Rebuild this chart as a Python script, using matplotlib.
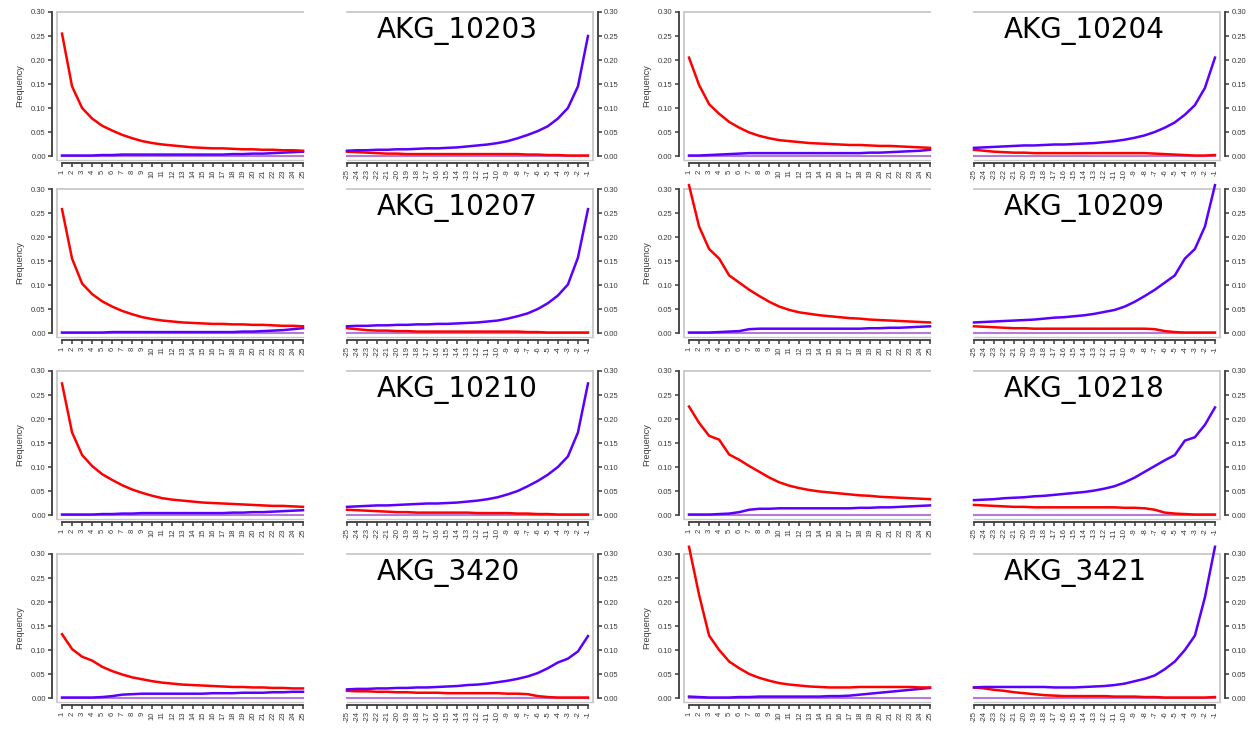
import matplotlib
matplotlib.use("Agg")
import matplotlib.pyplot as plt

# positions along the read
pos_5p = list(range(1, 26))
pos_3p = list(range(-25, 0))
zero_line = [0.0] * 25

# AKG_10203
ct5_10203 = [0.255, 0.145, 0.100, 0.078, 0.063, 0.053, 0.044, 0.037, 0.031, 0.027, 0.024, 0.022, 0.020,
             0.018, 0.017, 0.016, 0.016, 0.015, 0.014, 0.014, 0.013, 0.013, 0.012, 0.012, 0.011]
ga5_10203 = [0.001, 0.001, 0.001, 0.001, 0.002, 0.002, 0.003, 0.003, 0.003, 0.003, 0.003, 0.003, 0.003,
             0.003, 0.003, 0.003, 0.003, 0.004, 0.004, 0.005, 0.005, 0.006, 0.007, 0.008, 0.009]
ga3_10203 = [0.011, 0.012, 0.012, 0.013, 0.013, 0.014, 0.014, 0.015, 0.016, 0.016, 0.017, 0.018, 0.020,
             0.022, 0.024, 0.027, 0.031, 0.037, 0.044, 0.052, 0.062, 0.078, 0.100, 0.145, 0.250]
ct3_10203 = [0.009, 0.008, 0.007, 0.006, 0.005, 0.005, 0.004, 0.004, 0.004, 0.004, 0.004, 0.004, 0.004,
             0.004, 0.004, 0.004, 0.004, 0.004, 0.003, 0.003, 0.002, 0.002, 0.001, 0.001, 0.001]

# AKG_10204
ct5_10204 = [0.205, 0.148, 0.108, 0.088, 0.071, 0.059, 0.049, 0.042, 0.037, 0.033, 0.031, 0.029, 0.027,
             0.026, 0.025, 0.024, 0.023, 0.023, 0.022, 0.021, 0.021, 0.020, 0.019, 0.018, 0.017]
ga5_10204 = [0.001, 0.001, 0.002, 0.003, 0.004, 0.005, 0.006, 0.006, 0.006, 0.006, 0.006, 0.006, 0.006,
             0.006, 0.006, 0.006, 0.006, 0.006, 0.007, 0.007, 0.008, 0.009, 0.010, 0.011, 0.013]
ga3_10204 = [0.017, 0.018, 0.019, 0.020, 0.021, 0.022, 0.022, 0.023, 0.024, 0.024, 0.025, 0.026, 0.027,
             0.029, 0.031, 0.034, 0.038, 0.043, 0.050, 0.059, 0.070, 0.086, 0.106, 0.142, 0.205]
ct3_10204 = [0.013, 0.011, 0.009, 0.008, 0.007, 0.007, 0.006, 0.006, 0.006, 0.006, 0.006, 0.006, 0.006,
             0.006, 0.006, 0.006, 0.006, 0.006, 0.005, 0.004, 0.003, 0.002, 0.001, 0.001, 0.002]

# AKG_10207
ct5_10207 = [0.258, 0.155, 0.103, 0.081, 0.066, 0.055, 0.046, 0.039, 0.033, 0.029, 0.026, 0.024, 0.022,
             0.021, 0.020, 0.019, 0.019, 0.018, 0.018, 0.017, 0.017, 0.016, 0.015, 0.015, 0.014]
ga5_10207 = [0.001, 0.001, 0.001, 0.001, 0.001, 0.002, 0.002, 0.002, 0.002, 0.002, 0.002, 0.002, 0.002,
             0.002, 0.002, 0.002, 0.002, 0.002, 0.003, 0.003, 0.004, 0.005, 0.006, 0.008, 0.010]
ga3_10207 = [0.014, 0.015, 0.015, 0.016, 0.016, 0.017, 0.017, 0.018, 0.018, 0.019, 0.019, 0.020, 0.021,
             0.022, 0.024, 0.026, 0.030, 0.035, 0.041, 0.050, 0.062, 0.078, 0.101, 0.157, 0.258]
ct3_10207 = [0.010, 0.008, 0.006, 0.005, 0.005, 0.004, 0.004, 0.003, 0.003, 0.003, 0.003, 0.003, 0.003,
             0.003, 0.003, 0.003, 0.003, 0.003, 0.002, 0.002, 0.001, 0.001, 0.001, 0.001, 0.001]

# AKG_10209
ct5_10209 = [0.308, 0.222, 0.175, 0.155, 0.120, 0.105, 0.090, 0.077, 0.065, 0.055, 0.048, 0.043, 0.040,
             0.037, 0.035, 0.033, 0.031, 0.030, 0.028, 0.027, 0.026, 0.025, 0.024, 0.023, 0.022]
ga5_10209 = [0.001, 0.001, 0.001, 0.002, 0.003, 0.004, 0.008, 0.009, 0.009, 0.009, 0.009, 0.009, 0.009,
             0.009, 0.009, 0.009, 0.009, 0.009, 0.010, 0.010, 0.011, 0.011, 0.012, 0.013, 0.014]
ga3_10209 = [0.022, 0.023, 0.024, 0.025, 0.026, 0.027, 0.028, 0.030, 0.032, 0.033, 0.035, 0.037, 0.040,
             0.044, 0.048, 0.055, 0.065, 0.077, 0.090, 0.105, 0.120, 0.155, 0.175, 0.222, 0.308]
ct3_10209 = [0.014, 0.013, 0.012, 0.011, 0.010, 0.010, 0.009, 0.009, 0.009, 0.009, 0.009, 0.009, 0.009,
             0.009, 0.009, 0.009, 0.009, 0.009, 0.008, 0.004, 0.002, 0.001, 0.001, 0.001, 0.001]

# AKG_10210
ct5_10210 = [0.274, 0.172, 0.125, 0.102, 0.085, 0.073, 0.062, 0.053, 0.046, 0.040, 0.035, 0.032, 0.030,
             0.028, 0.026, 0.025, 0.024, 0.023, 0.022, 0.021, 0.020, 0.019, 0.019, 0.018, 0.017]
ga5_10210 = [0.001, 0.001, 0.001, 0.001, 0.002, 0.002, 0.003, 0.003, 0.004, 0.004, 0.004, 0.004, 0.004,
             0.004, 0.004, 0.004, 0.004, 0.005, 0.005, 0.006, 0.006, 0.007, 0.008, 0.009, 0.010]
ga3_10210 = [0.017, 0.018, 0.019, 0.020, 0.020, 0.021, 0.022, 0.023, 0.024, 0.024, 0.025, 0.026, 0.028,
             0.030, 0.033, 0.037, 0.043, 0.050, 0.060, 0.071, 0.084, 0.100, 0.122, 0.172, 0.274]
ct3_10210 = [0.011, 0.010, 0.009, 0.008, 0.007, 0.006, 0.006, 0.005, 0.005, 0.005, 0.005, 0.005, 0.005,
             0.004, 0.004, 0.004, 0.004, 0.003, 0.003, 0.002, 0.002, 0.001, 0.001, 0.001, 0.001]

# AKG_10218
ct5_10218 = [0.226, 0.192, 0.165, 0.157, 0.126, 0.115, 0.102, 0.090, 0.078, 0.068, 0.061, 0.056, 0.052,
             0.049, 0.047, 0.045, 0.043, 0.041, 0.040, 0.038, 0.037, 0.036, 0.035, 0.034, 0.033]
ga5_10218 = [0.001, 0.001, 0.001, 0.002, 0.003, 0.006, 0.011, 0.013, 0.013, 0.014, 0.014, 0.014, 0.014,
             0.014, 0.014, 0.014, 0.014, 0.015, 0.015, 0.016, 0.016, 0.017, 0.018, 0.019, 0.020]
ga3_10218 = [0.031, 0.032, 0.033, 0.035, 0.036, 0.037, 0.039, 0.040, 0.042, 0.044, 0.046, 0.048, 0.051,
             0.055, 0.060, 0.068, 0.078, 0.090, 0.102, 0.114, 0.125, 0.155, 0.162, 0.188, 0.224]
ct3_10218 = [0.021, 0.020, 0.019, 0.018, 0.017, 0.017, 0.016, 0.016, 0.016, 0.016, 0.016, 0.016, 0.016,
             0.016, 0.016, 0.015, 0.015, 0.014, 0.011, 0.005, 0.003, 0.002, 0.001, 0.001, 0.001]

# AKG_3420
ct5_3420 = [0.133, 0.102, 0.086, 0.078, 0.065, 0.056, 0.049, 0.043, 0.039, 0.035, 0.032, 0.030, 0.028,
            0.027, 0.026, 0.025, 0.024, 0.023, 0.023, 0.022, 0.022, 0.021, 0.021, 0.020, 0.020]
ga5_3420 = [0.001, 0.001, 0.001, 0.001, 0.002, 0.004, 0.007, 0.008, 0.009, 0.009, 0.009, 0.009, 0.009,
            0.009, 0.009, 0.010, 0.010, 0.010, 0.011, 0.011, 0.011, 0.012, 0.012, 0.013, 0.013]
ga3_3420 = [0.018, 0.019, 0.019, 0.020, 0.020, 0.021, 0.021, 0.022, 0.022, 0.023, 0.024, 0.025, 0.027,
            0.028, 0.030, 0.033, 0.036, 0.040, 0.045, 0.052, 0.062, 0.074, 0.082, 0.097, 0.129]
ct3_3420 = [0.015, 0.014, 0.014, 0.013, 0.013, 0.012, 0.012, 0.011, 0.011, 0.011, 0.010, 0.010, 0.010,
            0.010, 0.010, 0.010, 0.009, 0.009, 0.008, 0.004, 0.002, 0.001, 0.001, 0.001, 0.001]

# AKG_3421
ct5_3421 = [0.315, 0.215, 0.130, 0.100, 0.076, 0.062, 0.050, 0.042, 0.036, 0.031, 0.028, 0.026, 0.024,
            0.023, 0.022, 0.022, 0.022, 0.023, 0.023, 0.023, 0.023, 0.023, 0.023, 0.022, 0.022]
ga5_3421 = [0.003, 0.002, 0.001, 0.001, 0.001, 0.002, 0.002, 0.003, 0.003, 0.003, 0.003, 0.003, 0.003,
            0.003, 0.004, 0.004, 0.005, 0.007, 0.009, 0.011, 0.013, 0.015, 0.017, 0.019, 0.021]
ga3_3421 = [0.022, 0.023, 0.023, 0.023, 0.023, 0.023, 0.023, 0.023, 0.022, 0.022, 0.022, 0.023, 0.024,
            0.025, 0.027, 0.030, 0.035, 0.040, 0.047, 0.060, 0.076, 0.100, 0.130, 0.210, 0.315]
ct3_3421 = [0.022, 0.020, 0.017, 0.015, 0.012, 0.010, 0.008, 0.006, 0.005, 0.004, 0.004, 0.004, 0.004,
            0.004, 0.003, 0.003, 0.003, 0.002, 0.002, 0.001, 0.001, 0.001, 0.001, 0.001, 0.002]

samples = [
    ("AKG_10203", ct5_10203, ga5_10203, ga3_10203, ct3_10203),
    ("AKG_10204", ct5_10204, ga5_10204, ga3_10204, ct3_10204),
    ("AKG_10207", ct5_10207, ga5_10207, ga3_10207, ct3_10207),
    ("AKG_10209", ct5_10209, ga5_10209, ga3_10209, ct3_10209),
    ("AKG_10210", ct5_10210, ga5_10210, ga3_10210, ct3_10210),
    ("AKG_10218", ct5_10218, ga5_10218, ga3_10218, ct3_10218),
    ("AKG_3420", ct5_3420, ga5_3420, ga3_3420, ct3_3420),
    ("AKG_3421", ct5_3421, ga5_3421, ga3_3421, ct3_3421),
]

y_ticks = [0.0, 0.05, 0.10, 0.15, 0.20, 0.25, 0.30]

RED = "#FF0000"
BLUE = "#5A00FF"
ZERO_COL = "#B57AD8"
AXIS_COL = "#3A3A3A"
BOX_COL = "#C8C8C8"
TICK_FONT = "Liberation Sans"

W, H = 1257, 732
fig = plt.figure(figsize=(W / 100, H / 100), dpi=100)

row_tops = [12, 189, 371, 554]
col_shift = [0, 627]
panel_h = 148          # 0.30 at top, box bottom a few px under 0.00
y_bottom = -0.0083


def add_panel(x0, x1, ytop):
    return fig.add_axes([x0 / W, 1 - (ytop + panel_h) / H, (x1 - x0) / W, panel_h / H])


def style_axis(ax, side, positions):
    for s in ax.spines.values():
        s.set_visible(False)
    ax.spines[side].set_visible(True)
    ax.spines[side].set_position(("outward", 3.6))
    ax.spines[side].set_bounds(0, 0.30)
    ax.spines["bottom"].set_visible(True)
    ax.spines["bottom"].set_position(("outward", 2.2))
    ax.spines["bottom"].set_bounds(positions[0], positions[-1])
    for s in (side, "bottom"):
        ax.spines[s].set_color(AXIS_COL)
        ax.spines[s].set_linewidth(1.3)
    ax.set_ylim(y_bottom, 0.30)
    ax.set_yticks(y_ticks)
    ax.set_yticklabels(["%.2f" % v for v in y_ticks], fontsize=5.5, family=TICK_FONT, color=AXIS_COL)
    ax.set_xticks(positions)
    ax.set_xticklabels([str(p) for p in positions], rotation=90, fontsize=5.5,
                       family=TICK_FONT, color=AXIS_COL)
    ax.tick_params(axis="both", length=3, width=1.1, color=AXIS_COL, pad=1.5)
    if side == "right":
        ax.yaxis.tick_right()
        ax.yaxis.set_label_position("right")
    # light grey frame (top, bottom and outer side)
    bx = 0 if side == "left" else 1
    ax.plot([0, 1], [1, 1], transform=ax.transAxes, color=BOX_COL, lw=1.3, clip_on=False)
    ax.plot([0, 1], [0, 0], transform=ax.transAxes, color=BOX_COL, lw=1.0, clip_on=False)
    ax.plot([bx, bx], [0, 1], transform=ax.transAxes, color=BOX_COL, lw=1.3, clip_on=False)


for i, (name, ct5, ga5, ga3, ct3) in enumerate(samples):
    r, c = divmod(i, 2)
    ytop = row_tops[r]
    dx = col_shift[c]

    # 5' end panel
    ax5 = add_panel(57 + dx, 303 + dx, ytop)
    ax5.set_xlim(0.5, 25)
    style_axis(ax5, "left", pos_5p)
    ax5.plot(pos_5p, zero_line, color=ZERO_COL, lw=1.5, clip_on=False)
    ax5.plot(pos_5p, ga5, color=BLUE, lw=1.8, clip_on=False)
    ax5.plot(pos_5p, ct5, color=RED, lw=1.8, clip_on=False)
    ax5.set_ylabel("Frequency", fontsize=6.5, family=TICK_FONT, color=AXIS_COL, labelpad=5)

    # 3' end panel
    ax3 = add_panel(347 + dx, 593 + dx, ytop)
    ax3.set_xlim(-25, -0.5)
    style_axis(ax3, "right", pos_3p)
    ax3.plot(pos_3p, zero_line, color=ZERO_COL, lw=1.5, clip_on=False)
    ax3.plot(pos_3p, ct3, color=RED, lw=1.8, clip_on=False)
    ax3.plot(pos_3p, ga3, color=BLUE, lw=1.8, clip_on=False)
    ax3.text(0.123, 0.965, name, transform=ax3.transAxes, ha="left", va="top",
             fontsize=20, family="DejaVu Sans", color="black")

fig.savefig("out.png", dpi=100)
